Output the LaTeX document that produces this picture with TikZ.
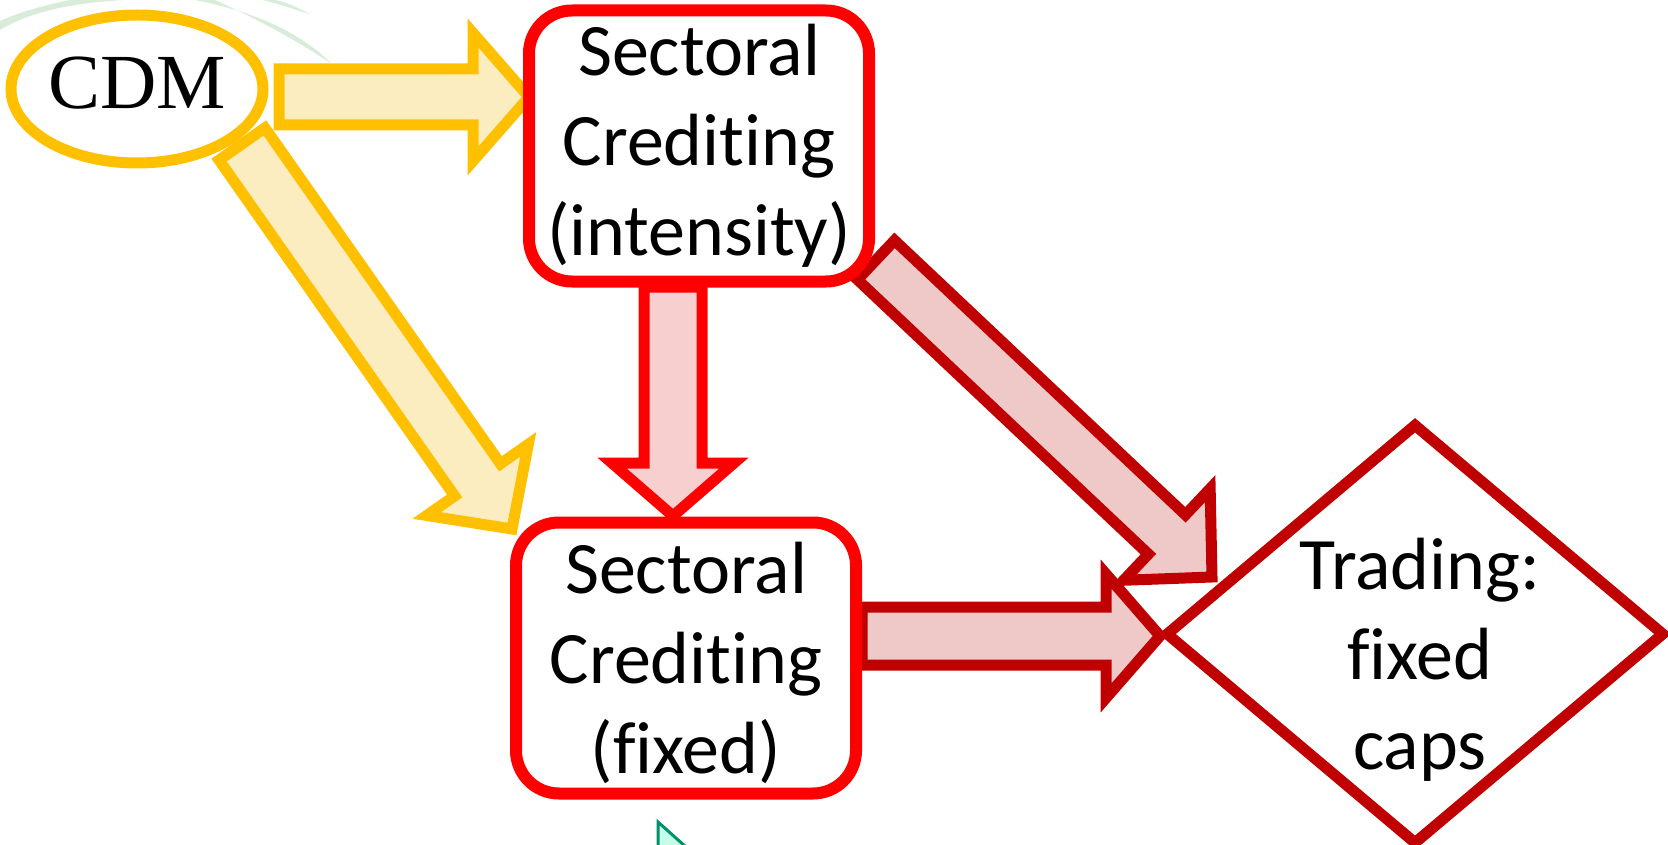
\documentclass[tikz,border=0pt]{standalone}
\usepackage{fontspec}
\setmainfont{Carlito}[Ligatures=NoCommon]
\newfontfamily\cdmfont{Liberation Serif}
\usetikzlibrary{shapes.geometric,calc,backgrounds}

\definecolor{cdmyellow}{HTML}{FFC000}
\definecolor{cdmfill}{HTML}{FCEDC0}
\definecolor{crred}{HTML}{FF0000}
\definecolor{crfill}{HTML}{F8CFCF}
\definecolor{tradered}{HTML}{C00000}
\definecolor{tradefill}{HTML}{EFC8C8}
\definecolor{swoosh}{HTML}{D9ECD9}
\definecolor{tipgreen}{HTML}{00906A}
\definecolor{tipfill}{HTML}{C4FFEA}

\newcommand\bigfont{\fontsize{74}{90}\selectfont}

% block arrow: style, tail, tip, shaft half width, head half width, head length
\newcommand\blockarrow[6]{%
	\coordinate (hb) at ($(#3)!#6!(#2)$);
	\draw[#1] ($(#2)!#4!90:(#3)$) -- ($(hb)!#4!90:(#3)$) -- ($(hb)!#5!90:(#3)$) -- (#3)
		-- ($(hb)!#5!-90:(#3)$) -- ($(hb)!#4!-90:(#3)$) -- ($(#2)!#4!-90:(#3)$) -- cycle;
}

\tikzset{
	cdmbox/.style={ellipse, draw=cdmyellow, line width=11pt, fill=white, minimum width=252pt, minimum height=148pt, inner sep=0pt, text depth=12pt, font=\cdmfont\fontsize{78}{80}\selectfont},
	crbox/.style={draw=crred, line width=12pt, fill=white, rounded corners=43pt, minimum width=340pt, minimum height=271pt, inner sep=2pt, align=center, font=\bigfont},
	tradebox/.style={diamond, draw=tradered, line width=11pt, minimum width=500pt, minimum height=422pt, inner sep=0pt},
	cdmarrow/.style={draw=cdmyellow, fill=cdmfill, line width=11pt},
	crarrow/.style={draw=crred, fill=crfill, line width=11pt},
	tradearrow/.style={draw=tradered, fill=tradefill, line width=11pt},
}

\begin{document}
\begin{tikzpicture}[x=1pt,y=-1pt]
	\useasboundingbox (0,0) rectangle (1668,845);
	% slide background leftovers
	\fill[swoosh] (0,30) .. controls (30,12) and (70,3) .. (125,0) -- (70,0) .. controls (40,6) and (15,14) .. (0,21) -- cycle;
	\fill[swoosh] (195,0) .. controls (255,12) and (300,32) .. (332,64) .. controls (290,36) and (250,16) .. (215,0) -- cycle;
	\fill[swoosh] (262,0) .. controls (280,4) and (295,10) .. (310,14) .. controls (295,6) and (285,2) .. (275,0) -- cycle;
	\draw[tipgreen, fill=tipfill, line width=3pt] (658,822) -- (686,847) -- (658,847) -- cycle;

	\node[cdmbox] (CDM) at (137,89) {CDM};
	\node[crbox] (SCI) at (699,146) {Sectoral\\Crediting\hspace*{18pt}\\(intensity)};
	\node[crbox, text depth=0pt] (SCF) at (686,658) {Sectoral\\Crediting\hspace*{18pt}\\(fixed)};
	\node[tradebox] (T) at (1415,634) {};
	\node[align=center, font=\bigfont] (Ttext) at (1420,660) {Trading:\\fixed\\caps};

	\coordinate (cdm-a) at (279,97);
	\coordinate (sci-in) at (529,97);
	\coordinate (cdm-b) at (242,144);
	\coordinate (scf-in) at (512,529);
	\coordinate (sci-a) at (673,287);
	\coordinate (scf-top) at (673,516);
	\coordinate (sci-b) at (876,260);
	\coordinate (t-in1) at (1212,577);
	\coordinate (scf-out) at (862,636);
	\coordinate (t-in2) at (1160,636);

	\begin{pgfonlayer}{background}
		\blockarrow{cdmarrow}{cdm-a}{sci-in}{28pt}{64pt}{56pt}
		\blockarrow{cdmarrow}{cdm-b}{scf-in}{28pt}{62pt}{60pt}
		\blockarrow{crarrow}{sci-a}{scf-top}{29pt}{61pt}{53pt}
		\blockarrow{tradearrow}{sci-b}{t-in1}{27pt}{63pt}{62pt}
		\blockarrow{tradearrow}{scf-out}{t-in2}{29pt}{62pt}{54pt}
	\end{pgfonlayer}
\end{tikzpicture}
\end{document}
